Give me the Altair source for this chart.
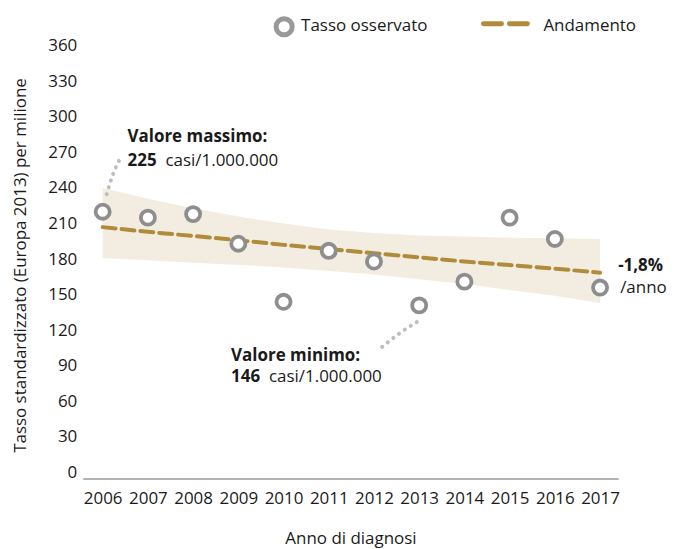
import altair as alt
import pandas as pd

years = list(range(2006, 2018))
observed = [225, 220, 223, 198, 149, 192, 183, 146, 166, 220, 202, 161]
trend = [212, 208, 204.5, 201, 197, 193.5, 190, 186.5, 183, 180, 177, 173.5]
band_low = [186, 184, 182, 180, 178, 175, 172, 168, 164, 159, 154, 148]
band_high = [245, 236, 228, 221, 215, 210, 207, 205, 204, 203, 202.5, 202]

y_ticks = list(range(0, 361, 30))

FONT = "Open Sans"
TXT = "#1a1a1a"
GOLD = "#b08c3a"
BAND = "#f3ede1"
GRAY = "#8e8e8e"
DOT = "#bdbdbd"

df = pd.DataFrame({"year": years, "obs": observed, "trend": trend,
                   "lo": band_low, "hi": band_high})

xs = alt.Scale(domain=[2005.56, 2017.4], nice=False, zero=False)
ys = alt.Scale(domain=[0, 360], nice=False)

x_axis = alt.Axis(values=years, format="d", title="Anno di diagnosi",
                  labelOverlap=False, tickCount=12)
y_axis = alt.Axis(values=y_ticks,
                  title="Tasso standardizzato (Europa 2013) per milione",
                  labelOverlap=False, tickCount=13, labelSeparation=0)


def X(f):
    return alt.X(f, scale=xs, axis=x_axis)


def Y(f):
    return alt.Y(f, scale=ys, axis=y_axis)


base = alt.Chart(df)

band = base.mark_area(color=BAND).encode(x=X("year:Q"), y=Y("lo:Q"), y2="hi:Q")

line = base.mark_line(color=GOLD, strokeWidth=4, strokeDash=[13, 6],
                      strokeCap="round").encode(x=X("year:Q"), y=Y("trend:Q"))

points = base.mark_point(shape="circle", filled=True, fill="white",
                         stroke=GRAY, strokeWidth=3.8, size=200,
                         opacity=1).encode(x=X("year:Q"), y=Y("obs:Q"))

# dotted connectors
conn = pd.DataFrame({
    "x": [2006.09, 2006.22, 2006.4, 2012.18, 2012.58, 2012.95],
    "y": [239.7, 255.7, 270.8, 111, 122.8, 132],
    "g": ["max", "max", "max", "min", "min", "min"],
    "o": [0, 1, 2, 0, 1, 2],
})
dots = alt.Chart(conn).mark_line(color=DOT, strokeWidth=4, strokeDash=[0.1, 7],
                                 strokeCap="round", interpolate="monotone").encode(
    x=X("x:Q"), y=Y("y:Q"), detail="g:N", order="o:Q")

# annotations
bold_txt = pd.DataFrame({
    "x": [2006.55, 2006.55, 2008.84, 2008.84, 2017.4],
    "y": [288.4, 267.8, 103.4, 85.3, 179.5],
    "t": ["Valore massimo:", "225", "Valore minimo:", "146", "-1,8%"],
})
norm_txt = pd.DataFrame({
    "x": [2006.55, 2008.84, 2017.4],
    "y": [267.8, 85.3, 160.5],
    "t": ["casi/1.000.000", "casi/1.000.000", "/anno"],
    "dx": [38, 38, 2],
})
bold = alt.Chart(bold_txt).mark_text(font=FONT, fontSize=17, fontWeight="bold",
                                     color=TXT, align="left", baseline="middle").encode(
    x=X("x:Q"), y=Y("y:Q"), text="t:N")
norm_layers = []
for _, r in norm_txt.iterrows():
    norm_layers.append(
        alt.Chart(pd.DataFrame([r])).mark_text(
            font=FONT, fontSize=17, color=TXT, align="left", baseline="middle",
            dx=int(r["dx"])).encode(x=X("x:Q"), y=Y("y:Q"), text="t:N"))

# manual legend
leg_df = pd.DataFrame({"k": [0]})
leg_circle = alt.Chart(leg_df).mark_point(shape="circle", filled=True, fill="white",
                                          stroke="#6e6e6e", strokeWidth=5, size=260).encode(
    x=alt.value(202), y=alt.value(-25))
leg_line = alt.Chart(leg_df).mark_rule(color=GOLD, strokeWidth=5, strokeDash=[18, 8],
                                       strokeCap="round").encode(
    x=alt.value(402), x2=alt.value(450), y=alt.value(-28))
leg_t1 = alt.Chart(leg_df).mark_text(font=FONT, fontSize=17, color=TXT, align="left",
                                     baseline="middle", text="Tasso osservato").encode(
    x=alt.value(219), y=alt.value(-26))
leg_t2 = alt.Chart(leg_df).mark_text(font=FONT, fontSize=17, color=TXT, align="left",
                                     baseline="middle", text="Andamento").encode(
    x=alt.value(462), y=alt.value(-26))

chart = alt.layer(band, line, dots, points, bold, *norm_layers,
                  leg_circle, leg_line, leg_t1, leg_t2).properties(
    width=537, height=428,
    background="white",
    autosize=alt.AutoSizeParams(type="none"),
    padding={"left": 75, "top": 43, "right": 50, "bottom": 70},
).configure_view(stroke=None, strokeWidth=0).configure_axis(
    labelOverlap=False, labelFlush=False, grid=False, ticks=False,
    labelFont=FONT, labelFontSize=17, labelColor=TXT,
    titleFont=FONT, titleFontSize=17, titleFontWeight="normal", titleColor=TXT,
).configure_axisX(
    domain=True, domainColor="#9a9a9a", domainWidth=1.5,
    labelPadding=12, titlePadding=24,
).configure_axisY(
    domain=False, labelPadding=6, labelOffset=-6, titlePadding=18,
)

chart.save("out.html", embed_options={"renderer": "svg", "actions": False})
